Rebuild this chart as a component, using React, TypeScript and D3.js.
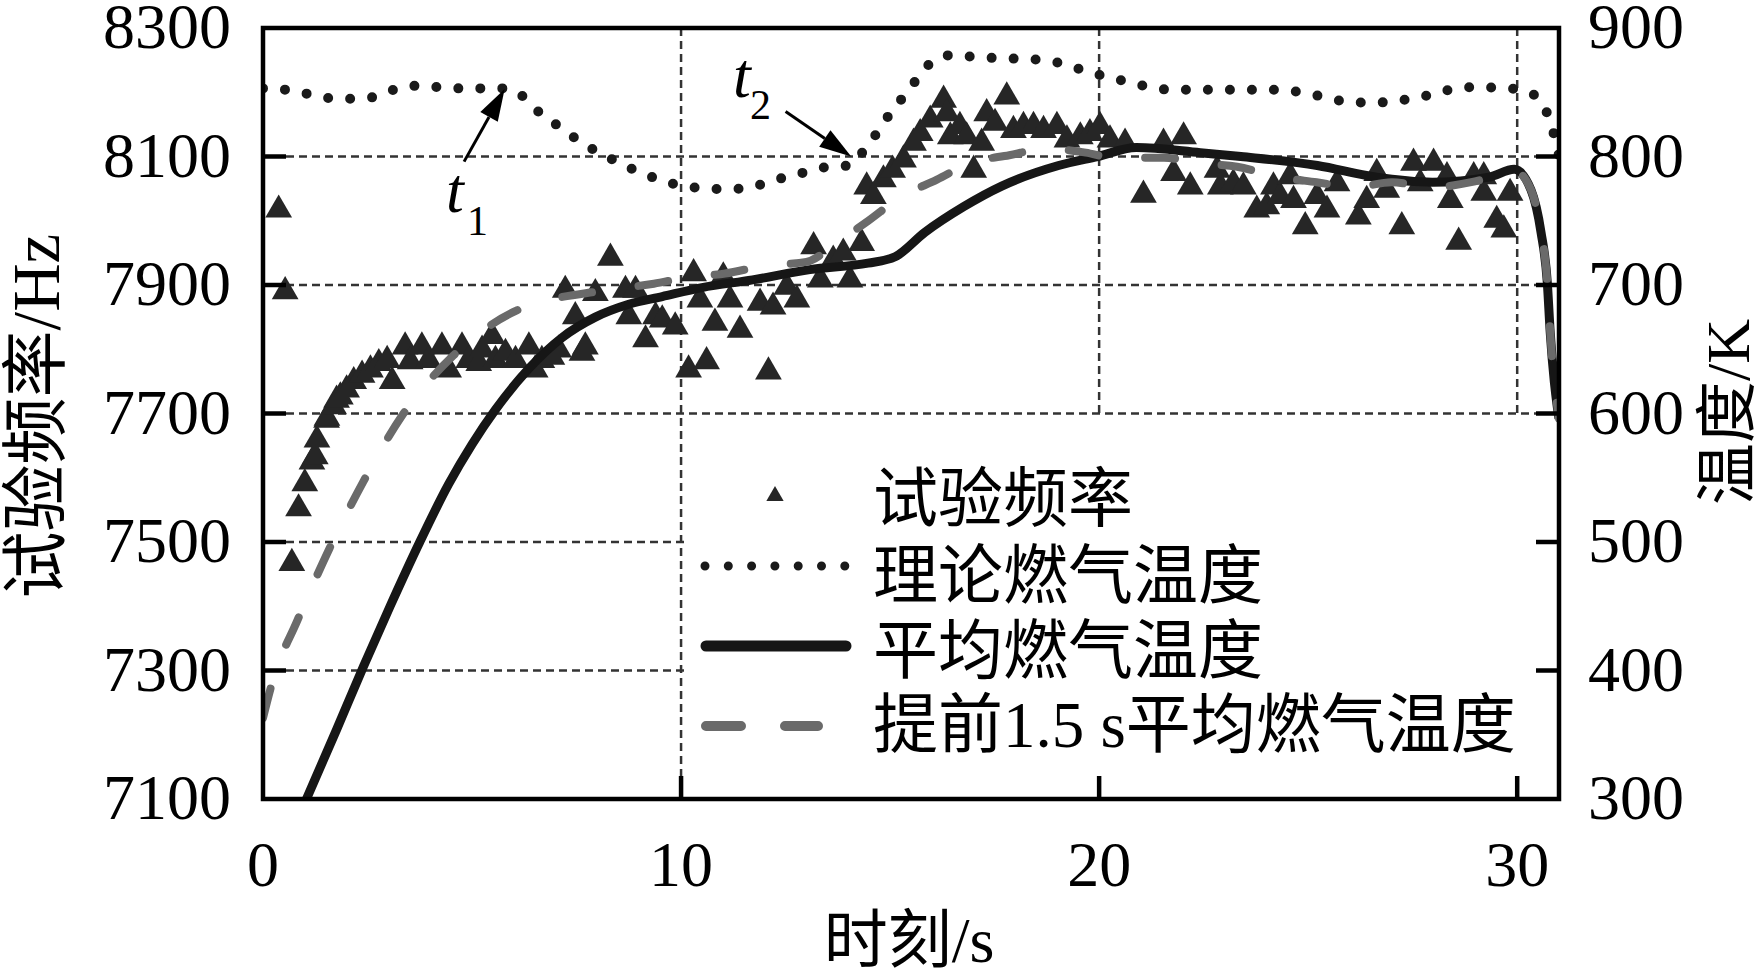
import React from "react";
import * as d3 from "d3";

// ---- data ----
const timeTicks = [0, 10, 20, 30];
const hzTicks = [7100, 7300, 7500, 7700, 7900, 8100, 8300];
const kTicks = [300, 400, 500, 600, 700, 800, 900];

// 试验频率 (t [s], Hz)
const expFreq: [number, number][] = [
  [0.375, 8017], [0.53, 7890], [0.69, 7467], [0.85, 7552], [1.0, 7591], [1.17, 7625],
  [1.25, 7633], [1.29, 7659], [1.52, 7690], [1.53, 7693], [1.69, 7711], [1.76, 7721],
  [1.85, 7726], [2.0, 7737], [2.17, 7750], [2.37, 7760], [2.57, 7768], [2.77, 7778],
  [2.97, 7783], [3.09, 7750], [3.4, 7804], [3.52, 7781], [3.8, 7804], [3.96, 7783],
  [4.28, 7804], [4.44, 7768], [4.76, 7804], [4.92, 7783], [5.16, 7778], [5.24, 7799],
  [5.48, 7820], [5.56, 7783], [5.8, 7794], [6.04, 7783], [6.36, 7804], [6.51, 7768],
  [6.67, 7783], [6.91, 7788], [7.07, 7799], [7.23, 7892], [7.47, 7851], [7.63, 7794],
  [7.71, 7804], [7.95, 7887], [8.31, 7942], [8.67, 7892], [8.75, 7851], [8.91, 7892],
  [9.15, 7815], [9.39, 7851], [9.55, 7846], [9.86, 7835], [10.18, 7768], [10.3, 7918],
  [10.45, 7877], [10.61, 7781], [10.81, 7841], [11.01, 7913], [11.17, 7877], [11.41, 7830],
  [11.89, 7872], [12.09, 7765], [12.2, 7866], [12.53, 7897], [12.77, 7877], [13.17, 7960],
  [13.33, 7908], [13.64, 7939], [13.88, 7950], [14.04, 7908], [14.32, 7965], [14.44, 8053],
  [14.6, 8038], [14.84, 8064], [15.06, 8079], [15.32, 8095], [15.56, 8121], [15.72, 8136],
  [15.96, 8157], [16.28, 8188], [16.36, 8167], [16.44, 8131], [16.67, 8147], [16.83, 8131],
  [17.0, 8079], [17.19, 8121], [17.31, 8167], [17.51, 8152], [17.79, 8193], [17.95, 8141],
  [18.19, 8147], [18.43, 8147], [18.67, 8141], [18.99, 8147], [19.23, 8126], [19.55, 8131],
  [19.78, 8136], [20.02, 8147], [20.26, 8126], [20.62, 8121], [21.06, 8040], [21.54, 8121],
  [21.78, 8074], [22.02, 8131], [22.18, 8053], [22.82, 8079], [22.9, 8053], [23.21, 8058],
  [23.45, 8053], [23.77, 8017], [24.01, 8022], [24.17, 8053], [24.33, 8038], [24.57, 8069],
  [24.65, 8032], [24.93, 7991], [25.21, 8038], [25.45, 8017], [25.69, 8058], [26.2, 8006],
  [26.4, 8032], [26.64, 8074], [26.88, 8048], [27.24, 7991], [27.52, 8090], [27.68, 8058],
  [28.0, 8090], [28.32, 8069], [28.4, 8032], [28.6, 7967], [28.96, 8069], [29.2, 8069],
  [29.2, 8043], [29.51, 8001], [29.68, 7986], [29.83, 8043],
];

// 理论燃气温度 (t, K)
const theoTemp: [number, number][] = [
  [0.0, 853], [0.53, 852], [1.03, 849], [1.56, 845.5], [2.08, 845], [2.6, 846], [3.14, 852],
  [3.66, 855], [4.19, 854], [4.74, 853], [5.26, 853], [5.79, 853], [6.25, 846], [6.62, 834],
  [7.05, 824], [7.48, 814], [7.92, 805], [8.4, 797], [8.88, 789.5], [9.39, 783], [9.9, 778],
  [10.42, 775.5], [10.95, 774.7], [11.47, 775], [12.0, 779], [12.5, 784], [13.0, 788],
  [13.53, 792], [14.03, 793], [14.38, 805], [14.7, 819], [15.0, 833.5], [15.33, 847],
  [15.65, 860.5], [16.0, 873.5], [16.5, 879], [17.03, 877.4], [17.56, 876.6], [18.1, 876],
  [18.64, 875], [19.16, 872], [19.67, 866.5], [20.17, 862], [20.7, 858], [21.2, 854],
  [21.7, 852], [22.2, 852], [22.8, 852], [23.3, 852], [23.8, 852], [24.4, 851.7],
  [24.9, 849.4], [25.43, 846], [25.96, 842.4], [26.5, 842], [27.0, 842.4], [27.5, 845.5],
  [28.04, 848.6], [28.56, 853.3], [29.1, 854], [29.6, 853.3], [30.14, 851.7], [30.57, 842.4],
  [30.79, 827], [30.93, 810.5], [31.0, 800],
];

// 平均燃气温度 (t, K)
const avgTemp: [number, number][] = [
  [1.0, 297], [1.76, 354], [2.4, 403], [3.04, 450], [3.75, 500], [4.44, 545], [5.0, 576],
  [5.56, 603], [6.36, 635], [7.15, 659], [7.95, 675], [8.75, 685], [9.55, 691], [10.5, 698],
  [11.71, 704], [13.08, 712], [14.47, 717], [15.12, 722], [15.83, 741], [16.76, 761],
  [17.67, 777], [19.03, 793], [19.96, 800], [20.89, 807], [22.42, 803], [23.39, 800],
  [25.22, 793], [26.6, 784], [27.97, 780], [29.33, 784], [29.93, 790], [30.33, 774],
  [30.57, 741], [30.72, 702], [30.79, 663], [30.89, 624], [30.96, 605], [31.0, 596],
];

// 提前1.5 s平均燃气温度 (t, K)
const advTemp: [number, number][] = [
  [0, 363], [0.25, 394], [0.81, 438], [1.59, 495], [2.4, 547], [3.34, 599], [4.55, 645],
  [6.06, 680], [8.2, 696], [9.35, 701], [10.15, 706], [11.06, 709], [12.0, 715], [13.0, 718],
  [13.73, 733], [14.48, 750], [15.23, 768], [16.12, 782], [16.93, 795], [17.85, 801],
  [18.74, 806], [19.68, 803], [20.33, 799], [21.55, 799], [22.37, 795], [23.3, 792],
  [24.3, 784], [25.2, 780], [26.1, 776], [27.0, 780], [27.9, 776], [28.9, 780], [29.6, 786],
  [29.93, 789], [30.33, 774], [30.57, 741], [30.72, 702], [30.79, 663], [30.89, 624],
  [30.96, 605], [31.0, 596],
];

const legendLabels = ["试验频率", "理论燃气温度", "平均燃气温度", "提前1.5 s平均燃气温度"];

// annotations (data coords: t, K)
const annotations = [
  { name: "t", sub: "1", text: [4.38, 757], subPos: [4.88, 739], tail: [4.81, 796], tip: [5.78, 852.5] },
  { name: "t", sub: "2", text: [11.24, 846.5], subPos: [11.65, 829], tail: [12.5, 835], tip: [14.07, 800] },
];

const W = 1764;
const H = 976;
const L = 263, R = 1559, T = 28, B = 799;
const TICK = 23;

const SERIF = '"Liberation Serif", "Times New Roman", "Noto Sans CJK SC", serif';

export default function App() {
  const x = d3.scaleLinear().domain([0, 31]).range([L, R]);
  const yHz = d3.scaleLinear().domain([7100, 8300]).range([B, T]);
  const yK = d3.scaleLinear().domain([300, 900]).range([B, T]);

  const lineK = d3
    .line<[number, number]>()
    .x((d) => x(d[0]))
    .y((d) => yK(d[1]))
    .curve(d3.curveMonotoneX);

  const tri = d3.symbol().type(d3.symbolTriangle).size(310)() || "";
  const triSmall = d3.symbol().type(d3.symbolTriangle).size(130)() || "";

  const gridColor = "#333";
  const hzGrid = hzTicks.filter((v) => v > 7100 && v < 8300);
  const tGrid = timeTicks.filter((v) => v > 0);

  const legX = 873;
  const legY = [521, 598, 673, 747];

  const arrowHead = (tail: number[], tip: number[]) => {
    const x0 = x(tail[0]), y0 = yK(tail[1]);
    const x1 = x(tip[0]), y1 = yK(tip[1]);
    const ang = Math.atan2(y1 - y0, x1 - x0);
    const len = 32, hw = 10;
    const bx = x1 - len * Math.cos(ang), by = y1 - len * Math.sin(ang);
    const px = -Math.sin(ang) * hw, py = Math.cos(ang) * hw;
    return {
      line: { x1: x0, y1: y0, x2: bx, y2: by },
      head: `M${x1},${y1}L${bx + px},${by + py}L${bx - px},${by - py}Z`,
    };
  };

  return (
    <svg
      width={W}
      height={H}
      style={{ position: "absolute", left: 0, top: 0, background: "#fff" }}
      fontFamily={SERIF}
    >
      <defs>
        <clipPath id="plot">
          <rect x={L} y={T} width={R - L} height={B - T} />
        </clipPath>
      </defs>
      <rect x={0} y={0} width={W} height={H} fill="#fff" />

      {/* grid */}
      {hzGrid.map((v) => (
        <line key={"h" + v} x1={L + TICK} x2={R - TICK} y1={yHz(v)} y2={yHz(v)}
          stroke={gridColor} strokeWidth={2.5} strokeDasharray="8 5" />
      ))}
      {tGrid.map((v) => (
        <line key={"v" + v} x1={x(v)} x2={x(v)} y1={T} y2={B - TICK}
          stroke={gridColor} strokeWidth={2.5} strokeDasharray="8 5" />
      ))}

      {/* legend background */}
      <rect x={x(10) + 3} y={yHz(7700) + 4} width={R - 3 - (x(10) + 3)} height={B - 3 - (yHz(7700) + 4)} fill="#fff" />

      {/* data */}
      <g clipPath="url(#plot)">
        {expFreq.map((d, i) => (
          <path key={i} d={tri} transform={`translate(${x(d[0])},${yHz(d[1])})`} fill="#262626" />
        ))}
        <path d={lineK(avgTemp) || ""} fill="none" stroke="#161616" strokeWidth={9} />
        <path d={lineK(advTemp) || ""} fill="none" stroke="#6a6a6a" strokeWidth={8}
          strokeDasharray="30 47" strokeLinecap="round" />
        <path d={lineK(theoTemp) || ""} fill="none" stroke="#1a1a1a" strokeWidth={10}
          strokeDasharray="0 22" strokeLinecap="round" />
      </g>

      {/* annotations */}
      {annotations.map((a, i) => {
        const ah = arrowHead(a.tail, a.tip);
        return (
          <g key={"a" + i}>
            <text x={x(a.text[0])} y={yK(a.text[1])} fontSize={64} fontStyle="italic">{a.name}</text>
            <text x={x(a.subPos[0])} y={yK(a.subPos[1])} fontSize={42}>{a.sub}</text>
            <line {...ah.line} stroke="#000" strokeWidth={3} />
            <path d={ah.head} fill="#000" />
          </g>
        );
      })}

      {/* frame */}
      <rect x={L} y={T} width={R - L} height={B - T} fill="none" stroke="#000" strokeWidth={4.5} />

      {/* ticks */}
      {hzGrid.map((v) => (
        <line key={"lt" + v} x1={L} x2={L + TICK} y1={yHz(v)} y2={yHz(v)} stroke="#000" strokeWidth={4.5} />
      ))}
      {kTicks.filter((v) => v > 300 && v < 900).map((v) => (
        <line key={"rt" + v} x1={R - TICK} x2={R} y1={yK(v)} y2={yK(v)} stroke="#000" strokeWidth={4.5} />
      ))}
      {tGrid.map((v) => (
        <line key={"bt" + v} x1={x(v)} x2={x(v)} y1={B - TICK} y2={B} stroke="#000" strokeWidth={4.5} />
      ))}

      {/* tick labels */}
      {hzTicks.map((v) => (
        <text key={"ll" + v} x={231} y={yHz(v) + 20} fontSize={64} textAnchor="end">{v}</text>
      ))}
      {kTicks.map((v) => (
        <text key={"rl" + v} x={1588} y={yK(v) + 20} fontSize={64} textAnchor="start">{v}</text>
      ))}
      {timeTicks.map((v) => (
        <text key={"bl" + v} x={x(v)} y={886} fontSize={64} textAnchor="middle">{v}</text>
      ))}

      {/* axis titles */}
      <text x={909} y={962} fontSize={64} textAnchor="middle">时刻/s</text>
      <text transform="translate(36,416) rotate(-90)" fontSize={67} textAnchor="middle" dominantBaseline="central">试验频率/Hz</text>
      <text transform="translate(1728,412) rotate(-90)" fontSize={62} textAnchor="middle" dominantBaseline="central">温度/K</text>

      {/* legend */}
      <path d={triSmall} transform={`translate(775,496)`} fill="#262626" />
      <line x1={705} x2={845} y1={566} y2={566} stroke="#1a1a1a" strokeWidth={9}
        strokeDasharray="0 23.3" strokeLinecap="round" />
      <line x1={706} x2={846} y1={646} y2={646} stroke="#161616" strokeWidth={11} strokeLinecap="round" />
      <line x1={706} x2={818} y1={726} y2={726} stroke="#6a6a6a" strokeWidth={10}
        strokeDasharray="35 44" strokeLinecap="round" />
      {legendLabels.map((s, i) => (
        <text key={"lg" + i} x={legX} y={legY[i]} fontSize={65}>{s}</text>
      ))}
    </svg>
  );
}
